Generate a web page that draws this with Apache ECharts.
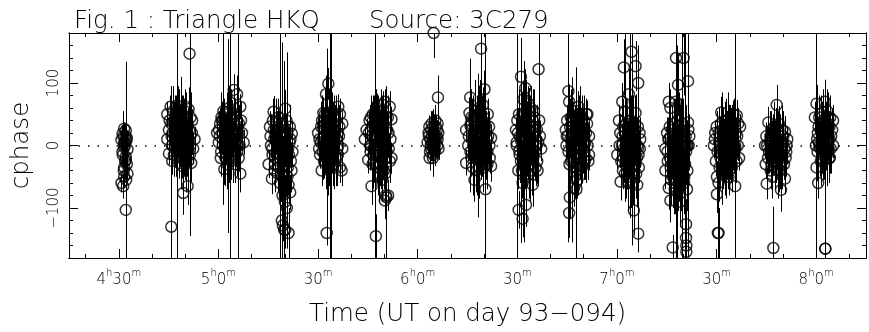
<!DOCTYPE html>
<html>
<head>
<meta charset="utf-8">
<script src="https://cdn.jsdelivr.net/npm/echarts@6/dist/echarts.min.js"></script>
<style>html,body{margin:0;padding:0;background:#fff;}#c{width:869px;height:332px;}</style>
</head>
<body>
<div id="c"></div>
<script>
// Each point: [minutes after 4h00m UT, closure phase (deg), half error bar (deg)]
const scan01 = [[31.6,27,10],[32.1,24,12],[31.1,19,14],[32.4,12,9],[30.8,9,15],[31.6,4,11],[31.6,-3,18],[32.6,-6,10],[31.1,-10,20],[32.1,-18,16],[32.4,-30,14],[31.6,-35,22],[32.6,-45,12],[31.6,-50,18],[30.8,-60,15],[31.3,-65,20],[32.1,-103,12],[32.1,-23,157],[31.9,5,30],[31.4,15,40],
  [31.8,0,20],[32.3,8,25],[31.2,-15,22],[31.9,-25,28],[32.0,15,18],[31.5,-40,25],[32.2,-55,20]];
const scan02 = [[44.6,50,20],[45.6,62,25],[47.6,64,30],[50.1,62,22],[51.0,58,35],[52.1,40,18],[52.8,10,20],[52.4,-5,25],[51.8,-28,30],[49.1,-33,20],[46.1,-25,22],[45.1,-13,18],[44.6,10,15],[45.1,25,20],[46.5,40,30],[47.0,20,25],[48.0,5,35],[48.5,30,28],[49.5,45,30],[50.5,15,25],[51.5,0,30],[49.0,-10,30],[47.5,-15,40],[46.0,0,25],[48.8,55,45],[50.0,-20,35],[51.2,25,40],[47.2,50,30],[45.8,35,20],[50.8,35,25],[46.8,-5,30],[48.2,-28,25],[51.3,147,292],[45.8,-130,225],[50.7,-65,30],[49.4,-76,35],[47.4,10,250],[48.6,20,90],[50.2,5,80],
  [45.3,40,40],[45.9,15,45],[46.4,55,40],[46.9,30,50],[47.3,-5,45],[47.8,40,55],[48.3,15,50],[48.7,-10,45],[49.2,25,55],[49.7,0,50],[50.3,35,45],[50.6,-10,40],[51.1,10,45],[51.6,45,40],[52.0,20,35],[46.2,20,35],[47.7,25,40],[48.9,40,40],[49.9,55,35],[50.9,-25,35],[46.6,-15,35],[48.1,50,40],[49.3,-20,40],[51.4,-15,35],[47.1,5,45]];
const scan03 = [[64.6,89,25],[65.6,82,30],[66.6,62,20],[65.1,50,25],[59.6,20,20],[60.1,5,18],[61.8,-38,25],[66.1,-20,22],[66.6,-45,30],[67.1,20,25],[67.6,5,20],[61.0,40,30],[62.0,25,25],[63.0,10,30],[64.0,30,22],[60.8,-10,25],[62.5,-15,28],[63.5,-5,35],[64.5,15,25],[65.5,0,30],[62.8,50,35],[61.5,55,40],[60.5,35,25],[63.8,-25,30],[65.0,-30,25],[66.2,35,30],[62.2,0,20],[64.2,45,28],[60.2,25,30],[63.2,60,30],[63.6,10,250],[61.5,42,137],[65.9,0,250],[62.9,15,155],
  [60.4,15,40],[60.9,45,40],[61.3,0,45],[61.7,25,50],[62.1,-20,45],[62.6,35,50],[63.1,-5,55],[63.4,30,50],[63.9,5,55],[64.3,-15,45],[64.8,35,45],[65.2,10,45],[65.7,-10,40],[66.0,20,40],[66.4,0,35],[61.2,20,35],[62.4,10,40],[63.7,45,45],[64.9,-20,40],[65.8,30,40],[62.7,-30,40],[60.7,-20,30],[66.8,40,30],[64.1,20,40],[63.3,55,40]];
const scan04 = [[76.6,54,25],[80.1,59,30],[82.1,19,20],[75.1,-30,22],[76.1,-53,25],[81.1,-63,30],[81.6,-75,28],[79.1,-120,35],[80.1,-135,30],[81.1,-140,40],[79.4,-128,25],[75.5,30,25],[76.8,10,30],[77.5,-10,35],[78.2,25,30],[78.8,0,40],[79.5,-20,35],[80.3,15,30],[81.0,-5,35],[81.8,-25,30],[77.0,-30,28],[78.0,45,30],[79.0,35,25],[80.5,40,30],[82.3,-10,25],[75.8,0,20],[77.8,-45,30],[79.8,-40,35],[80.8,-50,30],[76.3,-15,25],[78.5,-60,30],[80.0,-90,40],[80.6,-100,35],[79.3,-80,40],[77.2,15,25],[81.4,5,30],[78.5,0,250],[79.1,-10,175],[79.8,-135,270],[80.6,-8,157],
  [75.7,15,35],[76.2,-5,40],[76.7,25,45],[77.1,-20,45],[77.6,5,50],[78.1,-35,50],[78.6,20,50],[79.2,-10,55],[79.7,5,55],[80.2,-30,50],[80.7,20,45],[81.2,-15,45],[81.7,10,40],[82.0,-40,35],[77.4,35,40],[78.4,-20,45],[79.6,30,45],[80.9,-35,40],[76.9,-40,35],[78.9,-45,45],[80.4,0,50],[77.9,10,45],[81.5,30,35],[79.9,15,50],[76.4,40,35]];
const scan05 = [[93.1,99,25],[92.4,82,30],[91.6,52,25],[96.1,62,20],[96.6,50,25],[90.6,-15,22],[91.1,-40,25],[92.6,-140,20],[96.6,-35,25],[97.3,35,20],[97.3,-5,20],[97.1,-40,25],[90.0,20,25],[90.8,5,30],[91.5,30,28],[92.0,-10,35],[92.8,15,30],[93.5,40,32],[94.0,0,35],[94.5,-25,30],[95.0,25,30],[95.5,10,28],[96.0,-15,25],[93.2,-30,30],[94.8,45,35],[91.8,-25,28],[95.8,-5,30],[93.8,20,40],[92.2,35,30],[90.3,-5,25],[94.3,55,30],[95.3,-35,30],[96.3,15,25],[91.3,10,25],[93.6,-15,30],[92.5,0,50],[93.5,0,250],[94.0,10,250],[92.8,0,155],
  [90.4,10,35],[90.9,30,40],[91.4,-10,45],[91.9,15,45],[92.3,-20,50],[92.7,25,50],[93.0,5,55],[93.4,-10,55],[93.9,30,50],[94.2,10,55],[94.6,-15,50],[95.1,20,45],[95.6,-20,45],[96.1,0,40],[96.4,30,35],[91.2,40,40],[92.1,50,40],[93.3,45,45],[94.7,-30,40],[95.4,40,40],[92.9,-35,45],[94.4,25,45],[93.7,-25,45],[91.7,0,40],[95.9,20,35]];
const scan06 = [[110.1,70,20],[111.6,62,25],[109.6,65,22],[112.1,42,20],[104.6,25,18],[104.1,10,20],[105.1,-23,22],[112.1,-20,25],[106.1,-65,30],[110.6,-83,28],[111.1,-80,25],[110.1,-88,30],[107.4,-145,35],[105.5,40,25],[106.2,15,30],[106.8,-5,28],[107.5,30,30],[108.0,5,35],[108.5,-15,30],[109.0,20,32],[109.5,45,35],[110.0,0,30],[110.8,25,28],[111.3,-5,25],[106.5,50,30],[107.8,55,28],[108.8,-30,35],[109.8,-40,30],[105.8,-10,25],[107.2,-30,30],[111.8,10,22],[108.3,40,25],[110.4,-20,30],[106.0,0,20],[109.3,-55,35],[107.0,10,25],[107.1,0,250],[110.4,-80,175],[109.5,10,60],
  [105.3,20,35],[105.7,0,40],[106.3,30,40],[106.7,-15,45],[107.1,15,50],[107.6,-10,50],[108.1,25,55],[108.6,0,55],[109.1,-20,50],[109.4,30,50],[109.9,10,50],[110.3,40,45],[110.7,-10,45],[111.2,20,40],[111.6,-25,35],[106.4,-30,40],[107.9,-35,45],[108.9,45,45],[110.2,-45,40],[111.0,45,35],[105.9,45,35],[107.4,50,40],[109.7,-5,50],[108.2,-50,40],[106.9,35,45]];
const scan07 = [[124.8,180,40],[126.1,77,35],[123.6,-20,20],[124.6,-20,18],[123.3,20,15],[123.0,5,15],[123.5,30,18],[124.2,35,20],[125.0,15,22],[125.5,30,18],[126.0,10,20],[126.3,-5,18],[125.2,-10,20],[124.0,-5,15],[124.5,0,25],[125.8,25,15],[123.8,10,20],[125.3,40,25],[124.3,15,30],[126.0,35,20],[124.7,-15,35],
  [123.4,15,25],[123.9,0,25],[124.1,25,30],[124.4,5,30],[124.9,20,30],[125.1,-5,28],[125.4,10,30],[125.7,15,25],[126.2,20,22],[124.6,30,28],[123.7,-10,22],[125.9,0,22]];
const scan08 = [[139.1,155,125],[135.8,77,30],[135.6,52,25],[140.1,90,30],[139.6,65,28],[141.1,50,25],[134.6,25,20],[142.1,12,22],[134.6,-28,20],[137.1,-55,35],[140.4,-70,30],[142.1,-33,25],[136.0,35,30],[136.5,10,35],[137.0,-10,40],[137.5,30,35],[138.0,5,45],[138.5,-20,35],[139.0,20,40],[139.5,40,30],[140.0,0,35],[140.5,25,30],[141.0,-10,30],[141.5,30,25],[136.2,-20,30],[138.2,50,40],[139.8,-35,35],[137.8,-40,40],[135.2,0,25],[140.8,10,30],[138.8,-5,40],[136.8,45,35],[141.7,-20,25],[138.4,60,35],[137.3,15,40],[139.3,-15,35],[140.4,0,250],[138.1,0,115],[135.9,32,107],
  [135.4,15,40],[135.9,-10,45],[136.3,25,50],[136.7,0,50],[137.2,35,55],[137.6,-20,55],[138.0,20,60],[138.3,-5,60],[138.7,30,55],[139.2,5,60],[139.6,-20,55],[140.2,20,50],[140.6,-5,50],[141.2,15,45],[141.6,0,40],[136.1,45,45],[137.4,55,50],[138.6,-35,50],[139.9,45,50],[141.0,-30,40],[136.6,-35,45],[138.9,50,55],[140.3,35,45],[137.9,-15,55],[139.4,25,55]];
const scan09 = [[151.1,110,30],[156.4,122,65],[152.4,92,30],[153.4,67,25],[151.8,74,28],[156.6,40,25],[149.6,25,20],[150.6,-8,22],[151.1,-25,25],[151.6,-60,30],[154.6,-63,35],[150.4,-103,30],[152.6,-95,35],[151.6,-117,30],[156.1,-40,25],[150.0,40,25],[150.8,15,30],[151.5,50,35],[152.0,5,40],[152.8,30,35],[153.2,-15,40],[153.8,45,35],[154.2,10,40],[154.8,-20,35],[155.2,30,30],[155.8,0,30],[156.8,15,25],[152.2,-35,35],[153.6,-45,40],[155.5,-35,30],[149.8,5,20],[154.0,60,35],[155.0,55,30],[150.3,-40,30],[153.0,20,45],[157.2,-5,20],[149.8,0,250],[151.1,8,164],[151.9,-10,145],
  [150.2,20,40],[150.7,-15,45],[151.2,30,50],[151.7,0,55],[152.1,40,55],[152.5,-20,55],[152.9,10,60],[153.3,35,60],[153.7,-5,55],[154.1,25,55],[154.5,-30,50],[154.9,15,50],[155.4,-10,45],[155.9,25,40],[156.3,5,35],[151.4,-40,45],[152.7,55,50],[153.9,-40,50],[155.1,45,45],[156.0,-25,35],[150.5,50,40],[152.3,20,55],[153.5,0,60],[154.7,40,50],[151.9,-30,50]];
const scan10 = [[165.4,87,30],[165.6,70,28],[168.4,62,25],[171.1,50,22],[164.6,25,20],[171.6,15,22],[166.6,-10,25],[167.1,-35,28],[168.1,-55,30],[167.1,-68,30],[165.8,-83,35],[165.6,-108,40],[171.6,-15,25],[169.6,-33,28],[165.0,40,25],[166.0,10,30],[166.5,45,30],[167.0,20,35],[167.5,0,35],[168.0,30,30],[168.5,10,40],[169.0,45,30],[169.5,-5,35],[170.0,25,30],[170.5,5,30],[171.0,35,25],[166.2,-25,30],[168.8,-20,35],[170.3,-25,30],[167.8,55,30],[164.8,0,20],[169.2,15,40],[167.3,-50,35],[170.8,50,25],[165.3,15,170],[167.8,-70,195],[166.6,-23,132],
  [164.9,15,35],[165.4,-10,40],[165.9,30,45],[166.3,0,50],[166.8,20,50],[167.2,-20,55],[167.7,35,55],[168.2,0,55],[168.6,25,55],[169.1,-15,50],[169.4,30,50],[169.8,5,50],[170.2,-10,45],[170.7,20,40],[171.2,0,35],[166.1,45,45],[167.6,-35,45],[168.9,50,45],[170.1,40,40],[171.4,-25,30],[165.7,-30,40],[168.3,-30,50],[169.6,15,50],[167.4,10,55],[170.6,-20,40]];
const scan11 = [[184.4,150,40],[182.1,125,45],[185.6,127,40],[186.4,100,35],[183.6,82,40],[181.6,70,30],[185.6,52,30],[180.6,40,25],[180.1,-15,22],[186.6,-35,25],[181.1,-58,30],[186.1,-63,35],[185.1,-104,40],[186.4,-141,30],[181.0,20,30],[181.5,0,35],[182.0,-20,40],[182.5,10,40],[183.0,-35,35],[183.5,-5,45],[184.0,15,40],[184.5,-15,45],[185.0,-40,35],[185.5,5,35],[186.0,-20,30],[187.0,10,25],[182.8,35,40],[184.2,40,40],[183.2,-50,40],[184.8,-60,35],[181.8,-40,30],[186.8,20,25],[182.2,-10,30],[185.3,25,35],[182.4,54,130],[183.8,34,150],[184.6,12,172],[186.4,-3,163],
  [180.8,0,35],[181.3,-25,40],[181.7,15,45],[182.1,-5,50],[182.6,-30,55],[183.1,10,55],[183.4,-20,60],[183.9,0,60],[184.3,-35,55],[184.7,25,55],[185.1,-10,55],[185.6,-30,50],[186.1,0,45],[186.5,-15,40],[186.9,-5,30],[181.9,30,45],[183.7,30,50],[185.4,35,45],[182.4,-45,45],[184.1,-55,45],[186.3,30,35],[183.3,-60,45],[184.9,5,55],[182.9,-15,55],[185.8,-45,40]];
const scan12 = [[197.8,140,60],[200.1,140,60],[198.4,97,50],[201.4,103,45],[195.6,70,30],[196.1,60,30],[197.7,70,35],[201.4,37,30],[195.1,20,25],[194.6,-5,25],[194.6,-40,30],[195.6,-68,35],[196.1,-88,35],[199.1,-90,40],[201.1,-70,35],[196.8,-163,20],[200.8,-126,40],[200.8,-148,40],[200.9,-160,40],[200.9,-170,40],[195.5,10,35],[196.0,-20,40],[196.5,25,40],[197.0,-10,45],[197.5,-45,45],[198.0,5,50],[198.5,-25,50],[199.0,20,45],[199.5,-5,50],[200.0,30,45],[200.5,-30,45],[201.0,0,40],[201.8,15,35],[196.3,-55,40],[198.2,40,45],[199.3,-60,45],[197.2,35,40],[200.3,-50,45],[195.3,-25,30],[198.8,-40,50],[199.8,10,55],[197.4,-70,40],[197.7,0,250],[199.6,0,250],[200.6,0,250],[201.3,0,250],[198.0,-40,200],
  [195.2,-10,40],[195.7,10,45],[196.2,-35,50],[196.6,5,55],[197.1,-25,55],[197.6,15,60],[198.1,-15,60],[198.6,0,60],[199.0,-35,60],[199.4,20,55],[199.9,-20,55],[200.4,5,55],[200.8,-10,50],[201.2,-40,45],[201.6,0,40],[195.9,30,45],[197.3,-60,50],[198.7,30,55],[200.2,-60,50],[201.5,25,40],[196.8,-50,50],[198.3,-50,55],[199.7,35,50],[197.8,-5,60],[200.7,15,50]];
const scan13 = [[211.4,53,25],[215.1,50,22],[216.1,48,25],[213.6,35,30],[209.6,20,20],[217.1,30,20],[210.1,-50,25],[210.6,-60,30],[210.1,-78,30],[215.6,-65,25],[210.6,-140,40],[214.6,-35,25],[213.6,-50,30],[216.8,-20,20],[209.2,0,20],[210.0,30,25],[210.8,5,30],[211.2,-20,30],[211.8,25,30],[212.2,0,35],[212.8,-15,30],[213.2,15,35],[213.8,-5,35],[214.2,30,30],[214.8,5,30],[215.3,-15,30],[215.8,20,25],[216.4,0,25],[212.5,40,30],[211.6,-35,30],[214.0,-25,30],[212.0,-40,30],[216.5,35,25],[209.8,-25,25],[215.6,0,250],[210.4,-140,165],[211.6,-5,90],
  [209.5,10,30],[210.3,-10,35],[210.7,20,40],[211.1,0,45],[211.5,-25,45],[211.9,10,50],[212.3,-10,50],[212.7,25,50],[213.1,0,55],[213.5,-20,50],[213.9,15,50],[214.3,-10,50],[214.7,20,45],[215.2,0,45],[215.7,-5,40],[216.2,15,35],[212.4,-35,45],[214.5,-30,45],[213.3,40,45],[215.4,35,40],[211.3,35,40],[216.0,-25,35],[212.9,-45,40],[210.9,-35,35],[214.9,10,50]];
const scan14 = [[228.1,65,32],[225.6,37,25],[228.6,25,30],[230.6,22,25],[224.6,0,20],[225.1,-61,25],[229.4,-71,35],[230.6,-53,25],[227.1,-164,66],[227.6,-35,30],[225.0,15,22],[225.5,-20,25],[226.0,5,30],[226.5,25,30],[227.0,-10,35],[227.5,10,30],[228.0,-25,35],[228.5,0,30],[229.0,15,30],[229.5,-15,30],[230.0,5,25],[231.0,-10,22],[226.3,-40,30],[229.2,-40,30],[227.8,30,30],[226.8,-50,35],[230.3,-30,25],[228.8,35,28],[224.8,-30,22],[231.3,10,20],
  [225.2,0,30],[225.8,-10,35],[226.2,15,40],[226.7,-5,45],[227.2,20,45],[227.7,-20,50],[228.2,10,50],[228.7,-10,50],[229.1,5,45],[229.6,-25,45],[230.1,15,40],[230.5,-5,35],[231.1,0,30],[226.5,-30,40],[228.4,-40,45],[229.8,25,40],[227.4,30,40],[228.9,-30,45],[226.9,5,45],[230.8,-20,30]];
const scan15 = [[240.1,67,30],[242.6,70,35],[239.6,45,25],[245.1,40,25],[245.1,0,20],[240.6,-60,25],[242.8,-165,20],[240.1,-35,22],[244.1,-20,25],[240.5,20,25],[241.0,0,30],[241.5,35,30],[242.0,10,30],[242.5,-10,30],[243.0,25,35],[243.5,5,30],[244.0,30,25],[244.5,15,22],[241.3,50,30],[243.3,55,30],[242.2,-25,30],[240.8,5,20],[243.8,-5,25],[241.8,-15,30],[239.9,0,250],[242.7,-165,270],
  [240.3,10,35],[240.7,30,40],[241.2,-5,45],[241.6,20,50],[242.1,40,50],[242.4,0,55],[242.9,15,55],[243.2,-15,50],[243.6,35,50],[244.0,10,45],[244.4,-5,40],[244.8,25,35],[241.4,-25,40],[243.4,45,45],[242.7,30,50],[241.9,5,50],[240.9,45,35],[244.2,45,35],[243.9,-20,40],[240.4,-10,30]];

// Axis ticks / labels
const xTickValues = [30, 60, 90, 120, 150, 180, 210, 240];
const xTickHours  = ['4', '5', '', '6', '', '7', '', '8'];
const xTickMins   = ['30', '0', '30', '0', '30', '0', '30', '0'];
const yTickValues = [-100, 0, 100];
const yTickLabels = ['\u2212100', '0', '100'];

const titleLeft = 'Fig. 1 : Triangle HKQ';
const titleRight = 'Source: 3C279';
const xName = 'Time (UT on day 93\u2212094)';
const yName = 'cphase';

const allPoints = [].concat(scan01, scan02, scan03, scan04, scan05, scan06, scan07, scan08,
  scan09, scan10, scan11, scan12, scan13, scan14, scan15);

const FONT = 'DejaVu Sans';
const INK = '#000';
const BIG = 24.5;

function xLabel(v) {
  const i = xTickValues.indexOf(Math.round(v));
  if (i < 0) return '';
  const h = xTickHours[i], m = xTickMins[i];
  return (h ? '{n|' + h + '}{s|h}' : '') + '{n|' + m + '}{s|m}';
}
function yLabel(v) {
  const i = yTickValues.indexOf(Math.round(v));
  return i < 0 ? '' : yTickLabels[i];
}

function xAxisDef(pos, split, len, labels, name) {
  const a = {
    type: 'value', min: 15, max: 255, position: pos, splitNumber: split,
    axisLine: { show: true, onZero: false, lineStyle: { color: INK, width: 1 } },
    axisTick: { show: true, inside: true, length: len, lineStyle: { color: INK, width: 1 } },
    splitLine: { show: false },
    axisLabel: { show: labels, showMinLabel: false, showMaxLabel: false, margin: 10,
      formatter: xLabel, color: INK, fontFamily: FONT, fontWeight: 200,
      rich: { n: { fontSize: 15, fontFamily: FONT, fontWeight: 200, color: INK, verticalAlign: 'bottom', lineHeight: 20 },
              s: { fontSize: 10, fontFamily: FONT, fontWeight: 200, color: INK, verticalAlign: 'top', lineHeight: 4 } } }
  };
  if (name) {
    a.name = name; a.nameLocation = 'middle'; a.nameGap = 44;
    a.nameTextStyle = { fontSize: BIG, fontFamily: FONT, fontWeight: 200, color: INK };
  }
  return a;
}
function yAxisDef(pos, opts, len, labels, name) {
  const a = Object.assign({
    type: 'value', min: -180, max: 180, position: pos,
    axisLine: { show: true, onZero: false, lineStyle: { color: INK, width: 1 } },
    axisTick: { show: true, inside: true, length: len, lineStyle: { color: INK, width: 1 } },
    splitLine: { show: false },
    axisLabel: { show: labels, showMinLabel: false, showMaxLabel: false, rotate: 90, margin: 7,
      formatter: yLabel, fontSize: 15, fontFamily: FONT, fontWeight: 200, color: INK }
  }, opts);
  if (name) {
    a.name = name; a.nameLocation = 'middle'; a.nameGap = 35; a.nameRotate = 90;
    a.nameTextStyle = { fontSize: BIG, fontFamily: FONT, fontWeight: 200, color: INK };
  }
  return a;
}

const chart = echarts.init(document.getElementById('c'), null, { renderer: 'canvas' });
chart.setOption({
  animation: false,
  backgroundColor: '#fff',
  title: [
    { text: titleLeft, left: 69, top: 4,
      textStyle: { fontSize: BIG, fontFamily: FONT, fontWeight: 200, color: INK } },
    { text: titleRight, left: 364, top: 4,
      textStyle: { fontSize: BIG, fontFamily: FONT, fontWeight: 200, color: INK } }
  ],
  grid: { left: 69, right: 3, top: 33, bottom: 59, containLabel: false },
  xAxis: [
    xAxisDef('bottom', 24, 4, false),
    xAxisDef('bottom', 8, 9, true, xName),
    xAxisDef('top', 24, 4, false),
    xAxisDef('top', 8, 9, false)
  ],
  yAxis: [
    yAxisDef('left', { interval: 20 }, 4, false),
    yAxisDef('left', { splitNumber: 4 }, 9, true, yName),
    yAxisDef('right', { interval: 20 }, 4, false),
    yAxisDef('right', { splitNumber: 4 }, 9, false)
  ],
  series: [
    {
      type: 'custom',
      xAxisIndex: 0, yAxisIndex: 0,
      data: allPoints,
      encode: { x: 0, y: 1 },
      renderItem: function (params, api) {
        const x = api.value(0), y = api.value(1), e = api.value(2);
        const top = api.coord([x, y + e]);
        const bot = api.coord([x, y - e]);
        const cs = params.coordSys;
        const lo = cs.y, hi = cs.y + cs.height;
        const y1 = Math.max(lo, Math.min(hi, top[1]));
        const y2 = Math.max(lo, Math.min(hi, bot[1]));
        const px = Math.round(top[0]) + 0.5;
        return { type: 'line', shape: { x1: px, y1: y1, x2: px, y2: y2 },
          style: { stroke: '#000', lineWidth: 1 } };
      },
      z: 2
    },
    {
      type: 'scatter',
      xAxisIndex: 0, yAxisIndex: 0,
      data: allPoints.map(p => [p[0], p[1]]),
      symbol: 'circle', symbolSize: 11, clip: false,
      itemStyle: { color: 'rgba(0,0,0,0)', borderColor: '#000', borderWidth: 1.5 },
      markLine: {
        silent: true, symbol: 'none', label: { show: false },
        lineStyle: { color: '#000', width: 1.5, type: [1.5, 8] },
        data: [{ yAxis: 0 }]
      },
      z: 3
    }
  ]
});
</script>
</body>
</html>
